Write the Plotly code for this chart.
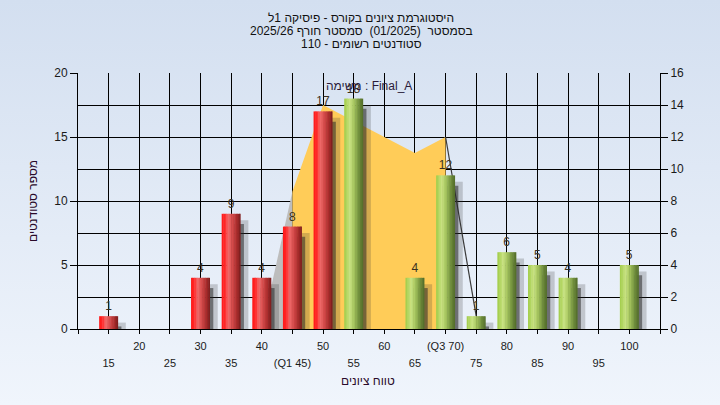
import base64
import plotly.graph_objects as go

# ---------------- data ----------------
categories = [15, 20, 25, 30, 35, 40, 45, 50, 55, 60, 65, 70, 75, 80, 85, 90, 95, 100]
counts = [1, 0, 0, 4, 9, 4, 8, 17, 18, 0, 4, 12, 1, 6, 5, 4, 0, 5]
split_at = 50  # bars up to this grade are red, above are green

row1_vals = [20, 30, 40, 50, 60, 70, 80, 90, 100]
row1_text = ["20", "30", "40", "50", "60", "(Q3 70)", "80", "90", "100"]
row2_vals = [15, 25, 35, 45, 55, 65, 75, 85, 95]
row2_text = ["15", "25", "35", "(Q1 45)", "55", "65", "75", "85", "95"]
all_ticks = [10, 15, 20, 25, 30, 35, 40, 45, 50, 55, 60, 65, 70, 75, 80, 85, 90, 95, 100, 105]

# yellow area (right axis units) between Q1 and Q3
area_x = [45, 50, 55, 60, 65, 70]
area_y = [8.6, 14.0, 13.0, 12.0, 11.0, 12.0]
wedge_left_x = [40, 45]
wedge_left_y = [0, 8.6]
tail_x = [70, 75]
tail_y = [12.0, 0.8]

NB = "\u00a0"
title_lines = [
    "היסטוגרמת ציונים בקורס - פיסיקה 1ל",
    "בסמסטר" + NB + NB + "(01/2025)" + NB + NB + "סמסטר חורף 2025/26",
    "סטודנטים רשומים - 110",
]
center_note = "משימה : Final_A"
x_title = "טווח ציונים"
y_title = "מספר סטודנטים"

# ---------------- style ----------------
FONT = "Liberation Sans, Arial, DejaVu Sans, sans-serif"
BAR_W = 3.1
N_STRIPS = 12
red_stops = [(0.0, (255, 24, 24)), (0.18, (255, 40, 40)), (0.34, (242, 108, 108)),
             (0.55, (214, 76, 76)), (0.8, (170, 44, 44)), (1.0, (120, 28, 28))]
green_stops = [(0.0, (160, 204, 72)), (0.3, (200, 226, 130)), (0.5, (168, 200, 96)),
               (0.78, (112, 142, 60)), (1.0, (80, 106, 40))]


def interp(stops, t):
    for (t0, c0), (t1, c1) in zip(stops[:-1], stops[1:]):
        if t0 <= t <= t1:
            f = (t - t0) / (t1 - t0) if t1 > t0 else 0
            c = [round(a + (b - a) * f) for a, b in zip(c0, c1)]
            return "rgb(%d,%d,%d)" % tuple(c)
    return "rgb(%d,%d,%d)" % stops[-1][1]


fig = go.Figure()

# area on main (right) axis
fig.add_trace(go.Scatter(x=wedge_left_x, y=wedge_left_y, mode="lines", fill="tozeroy",
                         fillcolor="#bdbdbd", line=dict(width=0), hoverinfo="skip",
                         showlegend=False, xaxis="x", yaxis="y"))
fig.add_trace(go.Scatter(x=area_x, y=area_y, mode="lines", fill="tozeroy",
                         fillcolor="#ffcc58", line=dict(width=0, color="#ffcc58"),
                         hoverinfo="skip", showlegend=False, xaxis="x", yaxis="y"))
fig.add_trace(go.Scatter(x=tail_x, y=tail_y, mode="lines",
                         line=dict(width=1.2, color="#3a3a3a"), hoverinfo="skip",
                         showlegend=False, xaxis="x", yaxis="y"))

# helper trace for second label row
fig.add_trace(go.Scatter(x=[None], y=[None], xaxis="x2", yaxis="y", showlegend=False,
                         hoverinfo="skip"))

groups = []
for stops, cond in ((red_stops, lambda c: c <= split_at), (green_stops, lambda c: c > split_at)):
    xs = [c for c, v in zip(categories, counts) if cond(c) and v > 0]
    vs = [v for c, v in zip(categories, counts) if cond(c) and v > 0]
    groups.append((stops, xs, vs))

# shadows
for stops, xs, vs in groups:
    fig.add_trace(go.Bar(x=xs, y=[max(v - 0.5, 0.25) for v in vs], width=BAR_W * 1.05,
                         offset=-BAR_W / 2 + 1.1, marker=dict(color="rgba(50,50,50,0.22)",
                         line=dict(width=0)), hoverinfo="skip", showlegend=False,
                         xaxis="x", yaxis="y2"))
    fig.add_trace(go.Bar(x=xs, y=[max(v - 0.8, 0.2) for v in vs], width=BAR_W * 0.85,
                         offset=-BAR_W / 2 + 1.0, marker=dict(color="rgba(40,40,40,0.55)",
                         line=dict(width=0)), hoverinfo="skip", showlegend=False,
                         xaxis="x", yaxis="y2"))

# gradient bars as strips
for stops, xs, vs in groups:
    sw = BAR_W / N_STRIPS
    for i in range(N_STRIPS):
        t = (i + 0.5) / N_STRIPS
        fig.add_trace(go.Bar(x=xs, y=vs, width=sw * 1.3 if i < N_STRIPS - 1 else sw,
                             offset=-BAR_W / 2 + i * sw,
                             marker=dict(color=interp(stops, t), line=dict(width=0)),
                             hoverinfo="skip", showlegend=False, xaxis="x", yaxis="y2"))
    fig.add_trace(go.Bar(x=xs, y=vs, width=BAR_W, marker=dict(color="rgba(0,0,0,0)",
                         line=dict(width=0)), text=[str(v) for v in vs],
                         textposition="outside", cliponaxis=False,
                         textfont=dict(family=FONT, size=12, color="#3a3020"),
                         hoverinfo="skip", showlegend=False, xaxis="x", yaxis="y2"))

# background gradient image
svg = ('<svg xmlns="http://www.w3.org/2000/svg" width="720" height="405">'
       '<defs><linearGradient id="g" x1="0" y1="0" x2="0" y2="1">'
       '<stop offset="0" stop-color="#d3dff0"/><stop offset="1" stop-color="#f0f5fc"/>'
       '</linearGradient></defs><rect width="720" height="405" fill="url(#g)"/></svg>')
src = "data:image/svg+xml;base64," + base64.b64encode(svg.encode()).decode()

L, R, T, B = 78, 60, 73, 76
PW, PH = 720 - L - R, 405 - T - B

annotations = []
for i, line in enumerate(title_lines):
    annotations.append(dict(text=line, xref="paper", yref="paper",
                            x=(361 - L) / PW, y=1 + (T - (18 + 13 * i)) / PH,
                            showarrow=False, xanchor="center", yanchor="middle",
                            font=dict(family=FONT, size=12, color="#111111")))
annotations.append(dict(text=center_note, xref="paper", yref="paper", x=0.5,
                        y=(PH - (86 - T)) / PH, showarrow=False, xanchor="center",
                        yanchor="middle", font=dict(family=FONT, size=12, color="#2a1a3a")))
annotations.append(dict(text=x_title, xref="paper", yref="paper", x=(368 - L) / PW,
                        y=-(381 - (T + PH)) / PH, showarrow=False, xanchor="center",
                        yanchor="middle", font=dict(family=FONT, size=12, color="#2a0a2a")))
annotations.append(dict(text=y_title, xref="paper", yref="paper", x=-(L - 33) / PW,
                        y=0.5, textangle=-90, showarrow=False, xanchor="center",
                        yanchor="middle", font=dict(family=FONT, size=12, color="#2a0a2a")))

fig.update_layout(
    width=720, height=405,
    margin=dict(l=L, r=R, t=T, b=B, pad=0),
    paper_bgcolor="#e2eaf6",
    plot_bgcolor="#b4b4b4",
    barmode="overlay",
    showlegend=False,
    hovermode=False,
    font=dict(family=FONT, size=11, color="#1a1a1a"),
    images=[dict(source=src, xref="paper", yref="paper", x=-L / PW, y=1 + T / PH,
                 sizex=720 / PW, sizey=405 / PH, sizing="stretch", layer="below",
                 xanchor="left", yanchor="top")],
    xaxis=dict(range=[10, 105], tickmode="array", tickvals=all_ticks,
               ticktext=[row1_text[row1_vals.index(v)] if v in row1_vals else "" for v in all_ticks],
               ticks="outside", ticklen=4, tickcolor="black", showgrid=True,
               gridcolor="black", gridwidth=1, showline=True, linecolor="black",
               linewidth=1, zeroline=False, ticklabelstandoff=3,
               tickfont=dict(family=FONT, size=11, color="#1a1a1a")),
    xaxis2=dict(range=[10, 105], overlaying="x", anchor="y", side="bottom",
                tickmode="array", tickvals=row2_vals, ticktext=row2_text, ticks="",
                showgrid=False, showline=False, zeroline=False, ticklabelstandoff=26,
                tickfont=dict(family=FONT, size=11, color="#1a1a1a")),
    yaxis=dict(range=[0, 16], dtick=2, tick0=0, side="right", ticks="outside", ticklen=7,
               tickcolor="black", showgrid=True, gridcolor="black", gridwidth=1,
               showline=True, linecolor="black", zeroline=False,
               tickfont=dict(family=FONT, size=12, color="#1a1a1a")),
    yaxis2=dict(range=[0, 20], dtick=5, tick0=0, overlaying="y", side="left", anchor="x",
                ticks="outside", ticklen=7, tickcolor="black", showgrid=False,
                showline=True, linecolor="black", zeroline=False,
                tickfont=dict(family=FONT, size=12, color="#1a1a1a")),
    annotations=annotations,
)

fig.write_html("out.html", config={"displayModeBar": False, "staticPlot": True},
               post_script="document.body.style.margin='0';document.body.style.overflow='hidden';")
